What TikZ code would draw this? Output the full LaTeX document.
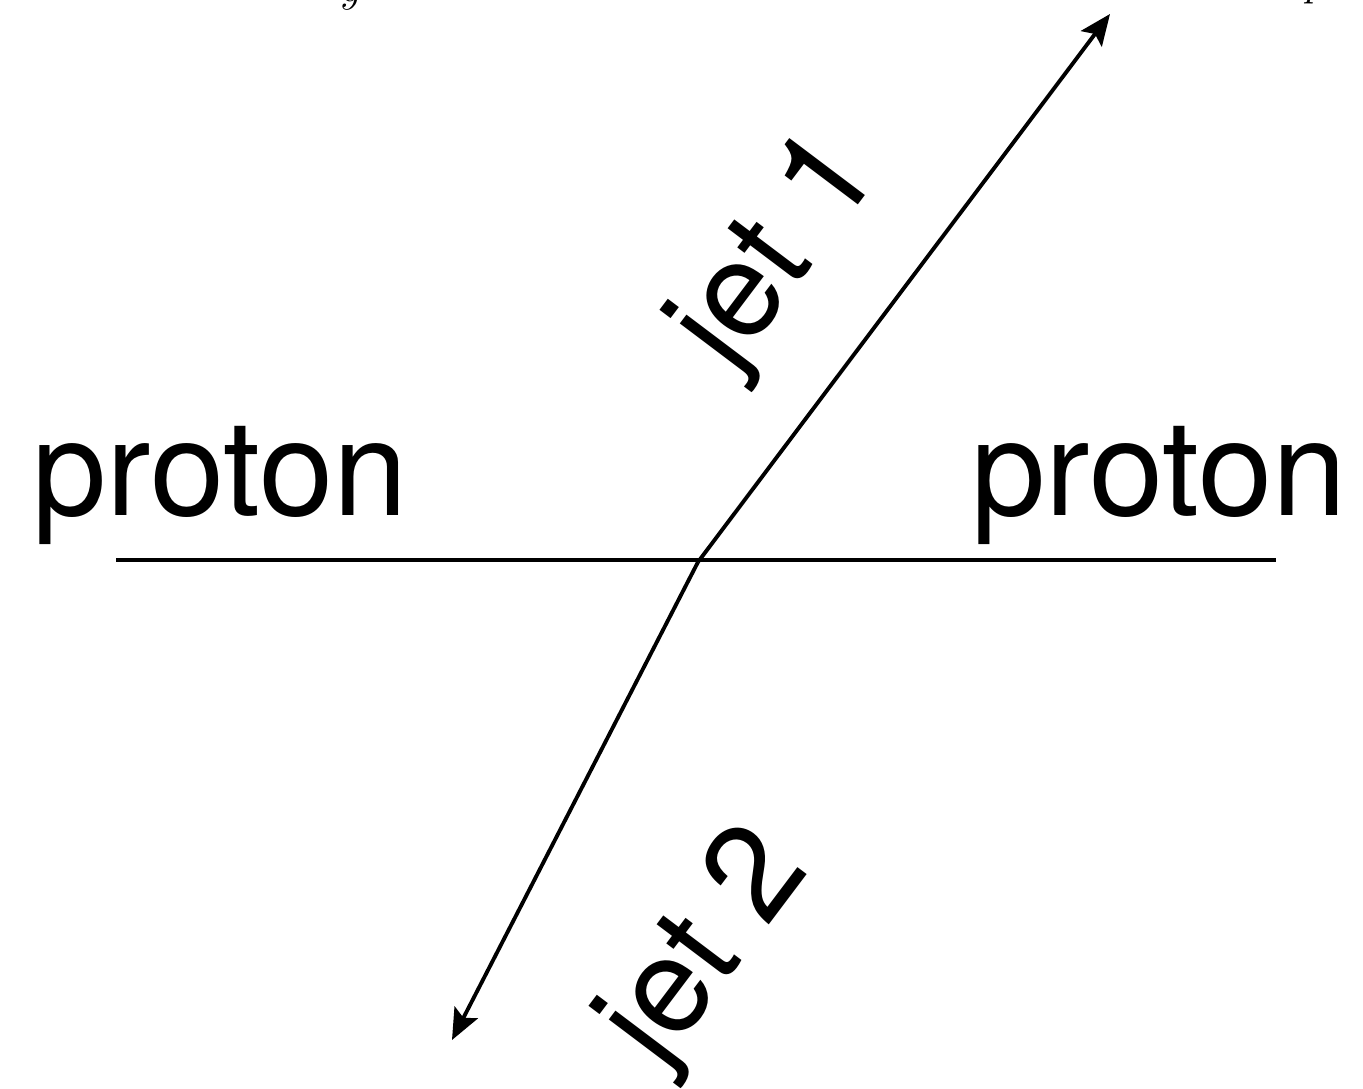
\documentclass[tikz,border=0pt]{standalone}
\usepackage{fontspec}
\setsansfont{TeX Gyre Heros}
\usetikzlibrary{arrows.meta}
\begin{document}
\begin{tikzpicture}[x=0.02cm,y=-0.02cm,
  lbl/.style={font=\sffamily\fontsize{76}{84}\selectfont, inner sep=0pt},
  mlbl/.style={font=\fontsize{76}{84}\selectfont, inner sep=0pt},
  ln/.style={line width=2.2pt},
  jet/.style={line width=2.2pt, -{Stealth[length=0.62cm,width=0.52cm,inset=0.12cm]}}]
\useasboundingbox (0,0) rectangle (1363,1089);
\coordinate (L) at (116,560);
\coordinate (R) at (1276,560);
\coordinate (c) at (698,562);
\coordinate (j1) at (1110,14);
\coordinate (j2) at (452,1040);
\draw[ln] (L) -- (R);
\draw[jet] (c) -- (j1);
\draw[jet] (c) -- (j2);
\node[lbl, anchor=base] (pl) at (220,515) {proton};
\node[lbl, anchor=base] (pr) at (1159,515) {proton};
\node[lbl, rotate=53] (t1) at (780,254) {jet 1};
\node[lbl, rotate=53] (t2) at (709,950) {jet 2};
\node[mlbl, anchor=south west] (my) at (340,10) {$y$};
\node[mlbl, anchor=south west] (mp) at (1305,4) {$p$};
\end{tikzpicture}
\end{document}
